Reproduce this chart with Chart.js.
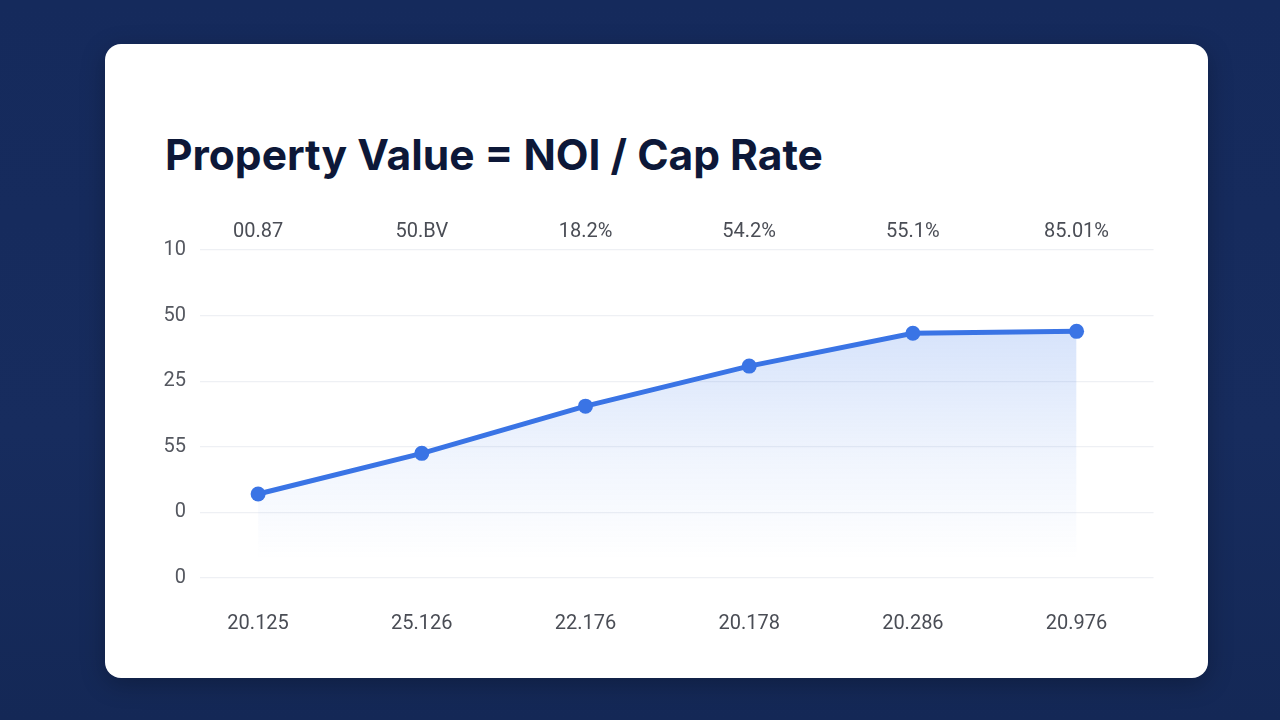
<!DOCTYPE html>
<html>
<head>
<meta charset="utf-8">
<script src="https://cdn.jsdelivr.net/npm/chart.js@4.4.1/dist/chart.umd.min.js"></script>
<style>
	html, body { margin: 0; padding: 0; }
	body {
		width: 1280px; height: 720px; overflow: hidden; position: relative;
		background: linear-gradient(180deg, #152a5c 0%, #172c5e 60%, #142856 100%);
		font-family: Roboto, "Liberation Sans", sans-serif;
	}
	.card {
		position: absolute; left: 105px; top: 44px; width: 1103px; height: 634px;
		background: #ffffff; border-radius: 16px;
		box-shadow: 0 6px 24px rgba(0, 0, 0, 0.25);
	}
	.title {
		position: absolute; left: 165px; top: 129px; margin: 0;
		font-family: Inter, Lato, sans-serif; font-weight: 700; font-size: 42.5px;
		color: #0d1838; white-space: nowrap;
	}
	.chart-box { position: absolute; left: 130px; top: 205px; width: 1031px; height: 433px; }
</style>
</head>
<body>
<div class="card"></div>
<h1 class="title">Property Value = NOI / Cap Rate</h1>
<div class="chart-box"><canvas id="chart"></canvas></div>

<script>
// chart data
var bottomLabels = ['20.125', '25.126', '22.176', '20.178', '20.286', '20.976'];
var topLabels    = ['00.87', '50.BV', '18.2%', '54.2%', '55.1%', '85.01%'];
var yTickLabels  = ['0', '0', '55', '25', '50', '10']; // bottom to top
var values       = [1.28, 1.9, 2.62, 3.23, 3.73, 3.76];

var tickFont = { family: 'Roboto, "Liberation Sans", sans-serif', size: 20 };

function categoryTicks(scale) {
	scale.ticks = bottomLabels.map(function(_, i) { return { value: i }; });
}

var ctx = document.getElementById('chart').getContext('2d');

var grad = ctx.createLinearGradient(0, 120, 0, 355);
grad.addColorStop(0, 'rgba(66, 125, 235, 0.22)');
grad.addColorStop(0.6, 'rgba(66, 125, 235, 0.07)');
grad.addColorStop(1, 'rgba(66, 125, 235, 0.0)');

var chart = new Chart(ctx, {
	type: 'line',
	data: {
		datasets: [{
			data: values.map(function(v, i) { return { x: i, y: v }; }),
			xAxisID: 'x',
			yAxisID: 'y',
			borderColor: '#3a74e5',
			borderWidth: 5,
			pointBackgroundColor: '#3a74e5',
			pointBorderColor: '#3a74e5',
			pointRadius: 7.5,
			pointBorderWidth: 0,
			tension: 0,
			fill: 'start',
			backgroundColor: grad
		}]
	},
	options: {
		responsive: true,
		maintainAspectRatio: false,
		animation: false,
		layout: { padding: 0 },
		plugins: { legend: { display: false }, tooltip: { enabled: false } },
		scales: {
			x: {
				type: 'linear',
				position: 'bottom',
				min: -0.355,
				max: 5.47,
				afterBuildTicks: categoryTicks,
				afterFit: function(s) { s.height = 60; },
				grid: { display: false, drawTicks: false },
				border: { display: false },
				ticks: {
					padding: 34,
					color: '#4a4d55',
					font: tickFont,
					callback: function(v) { return bottomLabels[v]; }
				}
			},
			x2: {
				type: 'linear',
				position: 'top',
				min: -0.355,
				max: 5.47,
				afterBuildTicks: categoryTicks,
				afterFit: function(s) { s.height = 45; },
				grid: { display: false, drawTicks: false },
				border: { display: false },
				ticks: {
					padding: 6,
					color: '#4a4d55',
					font: tickFont,
					callback: function(v) { return topLabels[v]; }
				}
			},
			y: {
				min: 0,
				max: 5,
				afterFit: function(s) { s.width = 70; },
				grid: { color: '#eef0f4', lineWidth: 1.2, drawTicks: false },
				border: { display: false },
				ticks: {
					stepSize: 1,
					padding: 14,
					color: '#555860',
					font: tickFont,
					callback: function(v) { return yTickLabels[v]; }
				}
			}
		}
	}
});
</script>
</body>
</html>
